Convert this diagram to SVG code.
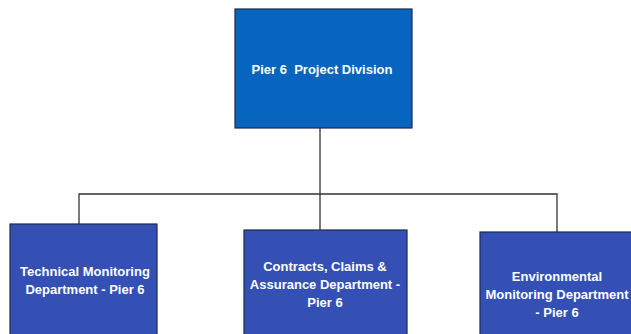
<svg xmlns="http://www.w3.org/2000/svg" width="631" height="334" viewBox="0 0 631 334">
<style>
.box{stroke:#1c2a4a;stroke-width:1.2}
.top{fill:#0765c0}
.sub{fill:#3450b4}
.t{font-family:"Liberation Sans",Arial,sans-serif;font-weight:bold;font-size:13px;fill:#ffffff;text-anchor:middle;white-space:pre}
.c{stroke:#333333;stroke-width:1.3;fill:none}
</style>
<rect width="631" height="334" fill="#ffffff"/>
<g id="connectors">
<path class="c" d="M320 128 V194 M79 224 V194 H557 V232 M320 194 V230"/>
</g>
<g id="n0">
<rect class="box top" x="235" y="9" width="177" height="119"/>
<text class="t" x="322" y="74" xml:space="preserve">Pier 6  Project Division</text>
</g>
<g id="n1">
<rect class="box sub" x="10" y="224" width="147" height="115"/>
<text class="t" x="85" y="276">Technical Monitoring</text>
<text class="t" x="85" y="294">Department - Pier 6</text>
</g>
<g id="n2">
<rect class="box sub" x="244" y="230" width="163" height="110"/>
<text class="t" x="325" y="271">Contracts, Claims &amp;</text>
<text class="t" x="325" y="289">Assurance Department -</text>
<text class="t" x="325" y="307">Pier 6</text>
</g>
<g id="n3">
<rect class="box sub" x="480" y="232" width="160" height="110"/>
<text class="t" x="557" y="281">Environmental</text>
<text class="t" x="557" y="299">Monitoring Department</text>
<text class="t" x="557" y="317">- Pier 6</text>
</g>
</svg>
